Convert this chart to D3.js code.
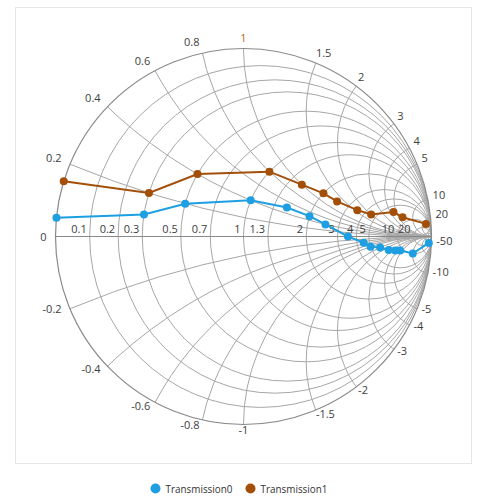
<!DOCTYPE html>
<html>
<head>
	<meta charset="utf-8">
	<title>Smith chart</title>
	<script src="https://cdn.jsdelivr.net/npm/d3@7"></script>
	<style type="text/css">
		body { margin: 0; background: #fff; }
		svg text { font-family: "Open Sans", "Noto Sans", sans-serif; }
		.tick-label { font-size: 11px; fill: #3d3d3d; }
		.legend text { font-size: 11.5px; fill: #333; }
	</style>
</head>
<body>
	<script type="text/javascript">
		// grid values
		var resistanceGrid = [0.1, 0.2, 0.3, 0.5, 0.7, 1, 1.3, 2, 3, 4, 5, 10, 20, 50];
		var resistanceLabels = [0.1, 0.2, 0.3, 0.5, 0.7, 1, 1.3, 2, 3, 4, 5, 10, 20];
		var reactanceGrid = [0.2, 0.4, 0.6, 0.8, 1, 1.5, 2, 3, 4, 5, 10, 20, 50];
		var reactanceLabels = [0.2, 0.4, 0.6, 0.8, 1, 1.5, 2, 3, 4, 5, 10, 20,
			-0.2, -0.4, -0.6, -0.8, -1, -1.5, -2, -3, -4, -5, -10, -50];

		// series
		var seriesNames = ["Transmission0", "Transmission1"];
		var seriesColors = ["#1d9fe2", "#a34f08"];
		var t0Resistance = [20, 10, 9, 8, 7, 6, 5, 4.5, 3.5, 2.5, 2, 1.5, 1, 0.5, 0.3, 0];
		var t0Reactance = [-50, -10, -4.5, -3.5, -2.5, -1.5, -1, -0.5, 0, 0.4, 0.5, 0.5, 0.4, 0.2, 0.1, 0.05];
		var t1Resistance = [10, 8, 6, 4.5, 3.5, 2.5, 2, 1.5, 1, 0.5, 0.3, 0];
		var t1Reactance = [25, 6, 4.5, 2, 1.6, 1.3, 1.2, 1, 0.8, 0.4, 0.2, 0.15];

		var width = 484;
		var height = 500;
		var cx = 243.5, cy = 236.5, R = 188;

		var svg = d3.select("body")
					.append("svg")
					.attr("width", width)
					.attr("height", height);

		var xScale = d3.scaleLinear().domain([-1, 1]).range([cx - R, cx + R]);
		var yScale = d3.scaleLinear().domain([-1, 1]).range([cy + R, cy - R]);
		var rScale = d3.scaleLinear().domain([0, 1]).range([0, R]);

		// impedance -> reflection coefficient
		var gamma = function (r, x) {
			var den = (r + 1) * (r + 1) + x * x;
			return [(r * r + x * x - 1) / den, 2 * x / den];
		};

		svg.append("rect")
			.attr("x", 15.5).attr("y", 7.5)
			.attr("width", 456).attr("height", 456)
			.attr("fill", "none")
			.attr("stroke", "#e6e6e6");

		svg.append("clipPath")
			.attr("id", "disk")
			.append("circle")
			.attr("cx", xScale(0)).attr("cy", yScale(0))
			.attr("r", rScale(1));

		var grid = svg.append("g").attr("clip-path", "url(#disk)");

		// resistance circles
		grid.selectAll("circle.res")
			.data(resistanceGrid)
			.enter()
			.append("circle")
			.attr("class", "res")
			.attr("cx", function (d) { return xScale(d / (d + 1)); })
			.attr("cy", yScale(0))
			.attr("r", function (d) { return rScale(1 / (d + 1)); })
			.attr("fill", "none")
			.attr("stroke", "#a6a6a6")
			.attr("stroke-width", 1);

		// reactance arcs, both signs
		var reactAll = reactanceGrid.concat(reactanceGrid.map(function (d) { return -d; }));
		grid.selectAll("circle.react")
			.data(reactAll)
			.enter()
			.append("circle")
			.attr("class", "react")
			.attr("cx", xScale(1))
			.attr("cy", function (d) { return yScale(1 / d); })
			.attr("r", function (d) { return rScale(1 / Math.abs(d)); })
			.attr("fill", "none")
			.attr("stroke", "#a6a6a6")
			.attr("stroke-width", 1);

		// horizontal axis + outer circle
		svg.append("line")
			.attr("x1", xScale(-1)).attr("x2", xScale(1))
			.attr("y1", yScale(0)).attr("y2", yScale(0))
			.attr("stroke", "#8a8a8a");

		svg.append("circle")
			.attr("cx", xScale(0)).attr("cy", yScale(0))
			.attr("r", rScale(1))
			.attr("fill", "none")
			.attr("stroke", "#8a8a8a")
			.attr("stroke-width", 1.2);

		// resistance labels along the axis
		svg.selectAll("text.rlab")
			.data(resistanceLabels)
			.enter()
			.append("text")
			.attr("class", "tick-label rlab")
			.attr("x", function (d) { return xScale((d - 1) / (d + 1)) - 3; })
			.attr("y", yScale(0) - 4)
			.attr("text-anchor", "end")
			.text(function (d) { return d; });

		svg.append("text")
			.attr("class", "tick-label")
			.attr("x", xScale(-1) - 9)
			.attr("y", yScale(0) + 4)
			.attr("text-anchor", "end")
			.text("0");

		// reactance labels around the circle
		svg.selectAll("text.xlab")
			.data(reactanceLabels)
			.enter()
			.append("text")
			.attr("class", "tick-label xlab")
			.each(function (d) {
				var g = gamma(0, d);
				var px = xScale(g[0] * (R + 8) / R);
				var py = yScale(g[1] * (R + 8) / R);
				var t = d3.select(this);
				var anchor = Math.abs(g[0]) < 0.05 ? "middle" : (g[0] < 0 ? "end" : "start");
				if (anchor == "end") px = px - 1;
				if (anchor == "start") px = px - 3;
				t.attr("x", px)
					.attr("y", py + 1)
					.attr("text-anchor", anchor)
					.text(d);
				if (d == 1) t.style("fill", "#b9661f");
			});

		// series
		var seriesData = [
			t0Resistance.map(function (r, i) { return gamma(r, t0Reactance[i]); }),
			t1Resistance.map(function (r, i) { return gamma(r, t1Reactance[i]); })
		];

		var line = d3.line()
			.x(function (d) { return xScale(d[0]); })
			.y(function (d) { return yScale(d[1]); });

		seriesData.forEach(function (pts, i) {
			svg.append("path")
				.attr("d", line(pts))
				.attr("fill", "none")
				.attr("stroke", seriesColors[i])
				.attr("stroke-width", 2);
			svg.selectAll("circle.m" + i)
				.data(pts)
				.enter()
				.append("circle")
				.attr("class", "m" + i)
				.attr("cx", function (d) { return xScale(d[0]); })
				.attr("cy", function (d) { return yScale(d[1]); })
				.attr("r", 4)
				.attr("fill", seriesColors[i]);
		});

		// legend
		var legend = svg.append("g").attr("class", "legend");
		var legendX = [155.5, 250.5];
		seriesNames.forEach(function (name, i) {
			legend.append("circle")
				.attr("cx", legendX[i]).attr("cy", 488.5)
				.attr("r", 5)
				.attr("fill", seriesColors[i]);
			legend.append("text")
				.attr("x", legendX[i] + 10)
				.attr("y", 492.5)
				.attr("textLength", 67)
				.attr("lengthAdjust", "spacingAndGlyphs")
				.text(name);
		});
	</script>
</body>
</html>
